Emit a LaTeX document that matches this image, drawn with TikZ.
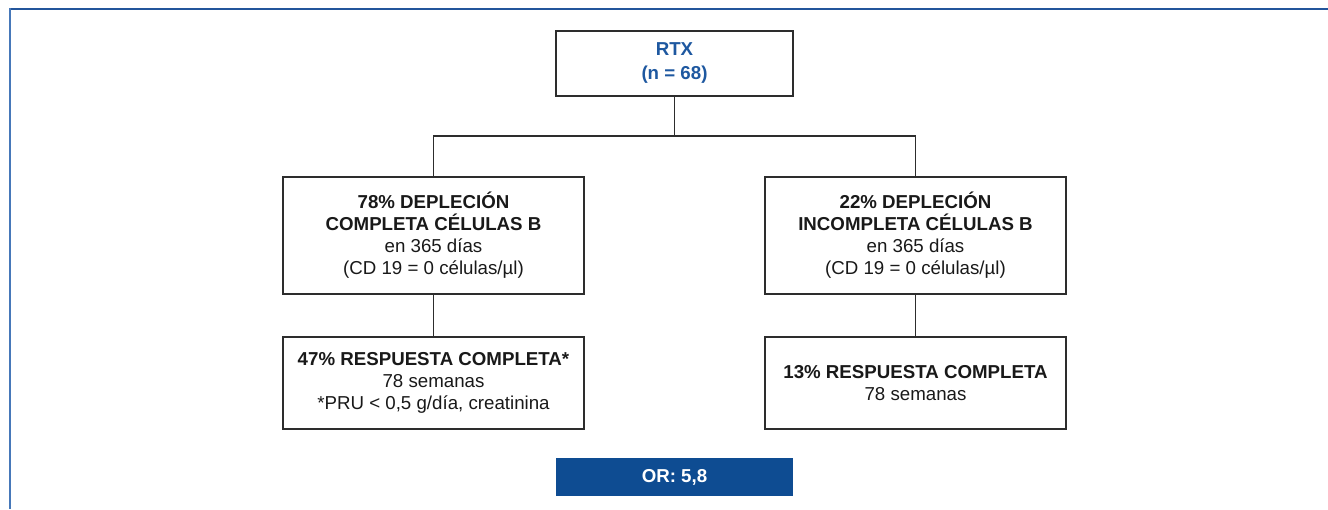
\documentclass[tikz,border=0pt]{standalone}
\usepackage{fontspec}
\setmainfont{Liberation Sans}
\definecolor{frameblue}{RGB}{70,120,185}
\definecolor{frametop}{RGB}{35,85,155}
\definecolor{rtxblue}{RGB}{30,88,160}
\definecolor{orblue}{RGB}{14,76,146}
\definecolor{boxline}{RGB}{45,45,45}
\begin{document}
\begin{tikzpicture}[x=1pt,y=-1pt,
  box/.style={draw=boxline,line width=1.1pt,fill=white,align=center,inner sep=0pt,
    font=\fontsize{18.7}{22}\selectfont,text=black!90},
  conn/.style={draw=boxline,line width=1.1pt}]
\useasboundingbox (0,0) rectangle (1328,509);
\draw[frametop,line width=2pt] (10,9) -- (1328,9);
\draw[frameblue,line width=2.6pt] (10,8) -- (10,509);
\node[box,minimum width=237pt,minimum height=65pt,text=rtxblue,font=\fontsize{18.7}{24}\selectfont\bfseries] (rtx) at (674.5,63.5) {RTX\\(n = 68)};
\node[box,minimum width=301pt,minimum height=117pt] (left) at (433.5,235.5) {\textbf{78\% DEPLECIÓN}\\\textbf{COMPLETA CÉLULAS B}\\en 365 días\\(CD 19 = 0 células/µl)};
\node[box,minimum width=301pt,minimum height=117pt] (right) at (915.5,235.5) {\textbf{22\% DEPLECIÓN}\\\textbf{INCOMPLETA CÉLULAS B}\\en 365 días\\(CD 19 = 0 células/µl)};
\node[box,minimum width=301pt,minimum height=92pt] (lb) at (433.5,383) {\textbf{47\% RESPUESTA COMPLETA*}\\78 semanas\\*PRU < 0,5 g/día, creatinina};
\node[box,minimum width=301pt,minimum height=92pt] (rb) at (915.5,383) {\textbf{13\% RESPUESTA COMPLETA}\\78 semanas};
\node[fill=orblue,minimum width=237pt,minimum height=38pt,inner sep=0pt,text=white,font=\fontsize{18.7}{22}\selectfont\bfseries] (or) at (674.5,477) {OR: 5,8};
\coordinate (j) at (674.5,136);
\draw[conn] (rtx.south) -- (j);
\draw[conn] (left.north) -- (left.north |- j) -- (right.north |- j) -- (right.north);
\draw[conn] (left.south) -- (lb.north);
\draw[conn] (right.south) -- (rb.north);
\end{tikzpicture}
\end{document}
